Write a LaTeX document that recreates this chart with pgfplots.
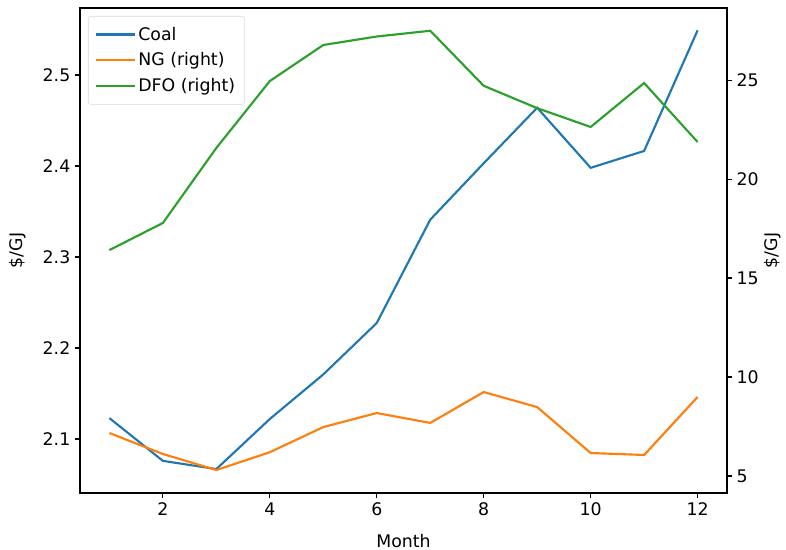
\documentclass[border=0pt]{standalone}
\usepackage{pgfplots}
\pgfplotsset{compat=1.18}
\usepackage{fontspec}
\setmainfont{DejaVu Sans}
\definecolor{c0}{HTML}{1F77B4}
\definecolor{c1}{HTML}{FF7F0E}
\definecolor{c2}{HTML}{2CA02C}
\pgfplotsset{
  /pgf/number format/assume math mode=true,
  every axis/.append style={font=\fontsize{13}{15.5}\selectfont},
  common/.style={
    width=485.25pt, height=363.75pt, scale only axis,
    xmin=0.45, xmax=12.55,
    tick align=outside, major tick length=3.75pt,
    every tick/.style={black, line width=0.8pt},
    axis line style={line width=0.8pt},
    legend image code/.code={\draw[##1] (0pt,0pt) -- (29pt,0pt);},
  }
}
\begin{document}
\begin{tikzpicture}
\useasboundingbox (-60pt,-42.75pt) rectangle (529.5pt,369.75pt);
\begin{axis}[common, at={(0,0)}, anchor=south west,
  ymin=2.0407, ymax=2.5736,
  xtick={2,4,6,8,10,12}, ytick={2.1,2.2,2.3,2.4,2.5},
  yticklabel style={/pgf/number format/fixed,/pgf/number format/precision=1},
  xtick pos=bottom, ytick pos=left,
  xlabel={Month}, ylabel={\$/GJ},
  xlabel style={yshift=-7pt},
  ylabel style={yshift=6pt},
]
\addplot[c0, line width=1.6pt] coordinates {
(1,2.123) (2,2.076) (3,2.067) (4,2.122) (5,2.171) (6,2.2275)
(7,2.341) (8,2.403) (9,2.464) (10,2.398) (11,2.4165) (12,2.549)};
\end{axis}
\begin{axis}[common, at={(0,0)}, anchor=south west,
  ymin=4.14, ymax=28.64,
  axis x line=none, axis y line*=right,
  ytick={5,10,15,20,25},
  ylabel={\$/GJ},
  ylabel style={yshift=0.5pt, inner sep=1pt},
  legend style={at={(0,1)}, anchor=north west, xshift=6pt, yshift=-6pt,
    draw=black!15, rounded corners=2pt, fill=white, fill opacity=0.8, text opacity=1,
    inner xsep=5pt, inner ysep=6pt, row sep=4pt,
    font=\fontsize{13}{15.5}\selectfont},
  legend cell align=left,
]
\addlegendimage{c0, line width=1.6pt}
\addlegendentry{Coal}
\addplot[c1, line width=1.6pt] coordinates {
(1,7.17) (2,6.11) (3,5.3) (4,6.2) (5,7.47) (6,8.18)
(7,7.68) (8,9.24) (9,8.48) (10,6.16) (11,6.06) (12,8.99)};
\addlegendentry{NG (right)}
\addplot[c2, line width=1.6pt] coordinates {
(1,16.41) (2,17.78) (3,21.57) (4,24.95) (5,26.77) (6,27.2)
(7,27.49) (8,24.71) (9,23.58) (10,22.63) (11,24.85) (12,21.87)};
\addlegendentry{DFO (right)}
\end{axis}
\end{tikzpicture}
\end{document}
